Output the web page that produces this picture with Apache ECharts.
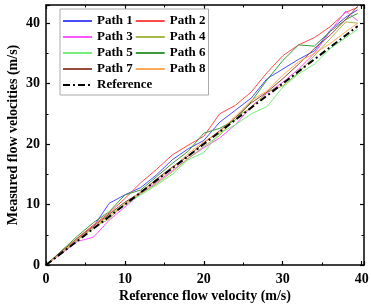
<!DOCTYPE html>
<html>
<head>
<meta charset="utf-8">
<script src="https://cdn.jsdelivr.net/npm/echarts@6/dist/echarts.min.js"></script>
<style>
  html, body { margin: 0; padding: 0; background: #fff; }
  #chart { width: 371px; height: 304px; }
</style>
</head>
<body>
<div id="chart"></div>
<script>
// reference velocities (m/s) where each path was sampled
const refVelocity = [0, 2, 4, 6, 8, 10, 12, 14, 16, 18, 20, 22, 24, 26, 28, 30, 32, 34, 36, 38, 39.5];

// measured velocities per path (m/s)
const path1 = [0, 2.1, 4.2, 6.3, 10.2, 11.6, 12.8, 14.9, 17.4, 19.2, 20.6, 23.6, 25.6, 27.6, 30.8, 32.4, 34.0, 35.4, 38.8, 41.0, 42.2];
const path2 = [0, 2.2, 4.5, 6.6, 8.6, 11.0, 13.6, 15.8, 18.2, 19.8, 21.3, 25.0, 26.4, 28.6, 31.8, 34.6, 36.4, 37.6, 39.4, 41.8, 42.6];
const path3 = [0, 1.9, 3.9, 4.6, 7.4, 9.6, 11.8, 13.6, 15.6, 17.6, 19.4, 21.0, 23.2, 26.2, 28.4, 30.2, 32.4, 35.0, 38.6, 42.0, 40.4];
const path4 = [0, 2.0, 4.1, 6.2, 7.6, 10.2, 11.8, 13.4, 15.4, 17.6, 19.6, 21.4, 24.4, 26.0, 28.6, 29.6, 31.8, 34.6, 37.4, 40.2, 40.0];
const path5 = [0, 2.2, 4.4, 6.0, 8.4, 10.0, 11.6, 13.2, 15.0, 17.4, 18.6, 21.8, 23.2, 25.0, 26.2, 29.4, 31.6, 33.2, 35.8, 37.6, 39.0];
const path6 = [0, 2.4, 4.8, 7.0, 8.8, 11.6, 12.4, 14.6, 16.8, 18.8, 21.8, 22.6, 24.0, 27.0, 30.6, 33.8, 36.4, 36.2, 38.6, 40.6, 41.6];
const path7 = [0, 2.3, 4.4, 6.4, 8.4, 10.4, 12.0, 14.2, 16.2, 18.0, 20.2, 22.2, 24.4, 26.8, 28.6, 30.8, 33.2, 35.8, 38.0, 40.6, 42.8];
const path8 = [0, 2.1, 4.3, 6.2, 8.1, 10.0, 12.2, 13.8, 16.0, 18.4, 20.4, 22.0, 24.6, 27.2, 28.8, 31.4, 33.6, 35.0, 36.6, 38.6, 40.0];
const referenceLine = [0, 2, 4, 6, 8, 10, 12, 14, 16, 18, 20, 22, 24, 26, 28, 30, 32, 34, 36, 38, 39.5];

const pathNames = ["Path 1", "Path 2", "Path 3", "Path 4", "Path 5", "Path 6", "Path 7", "Path 8"];
const pathValues = [path1, path2, path3, path4, path5, path6, path7, path8];
const pathColors = ["#4a4aff", "#ff4a4a", "#ff55ff", "#a8b84a", "#77ee77", "#3a9a3a", "#9a4a3a", "#ffaa5a"];

const FONT = "'Liberation Serif', 'Times New Roman', serif";

const pairs = (ys) => refVelocity.map((x, i) => [x, ys[i]]);

const series = pathNames.map((name, i) => ({
  name,
  type: "line",
  data: pairs(pathValues[i]),
  symbol: "none",
  lineStyle: { width: 1, color: pathColors[i] },
  itemStyle: { color: pathColors[i] },
}));

series.push({
  name: "Reference",
  type: "line",
  data: pairs(referenceLine),
  symbol: "none",
  z: 5,
  lineStyle: { width: 2, color: "#000", type: [7, 3, 2, 3] },
  itemStyle: { color: "#000" },
});

const tenOnly = (v) => (Math.abs(v % 10) < 1e-6 ? String(v) : "");

const axisCommon = {
  type: "value",
  interval: 10,
  axisLine: { show: true, onZero: false, lineStyle: { color: "#000", width: 1.5 } },
  axisTick: { show: true, inside: true, length: 4, lineStyle: { color: "#000", width: 1.2 } },
  minorTick: { show: true, splitNumber: 2, length: 2.5, lineStyle: { color: "#000", width: 1 } },
  splitLine: { show: false },
};

const labelStyle = { fontFamily: FONT, fontWeight: "bold", fontSize: 14, color: "#000" };

const chart = echarts.init(document.getElementById("chart"));
chart.setOption({
  animation: false,
  grid: { left: 46, right: 7, top: 5, bottom: 39, outerBoundsMode: "none", containLabel: false },
  legend: {
    data: [...pathNames, "Reference"],
    orient: "horizontal",
    left: 60,
    top: 9,
    width: 148,
    padding: [5, 3, 3, 2],
    itemGap: 2,
    itemWidth: 29,
    itemHeight: 10,
    borderColor: "#aaa",
    borderWidth: 1,
    backgroundColor: "#fff",
    itemStyle: { color: "transparent", borderWidth: 0 },
    textStyle: { fontFamily: FONT, fontWeight: "bold", fontSize: 13, color: "#000", lineHeight: 14 },
  },
  xAxis: [
    {
      ...axisCommon,
      position: "bottom",
      min: 0,
      max: 40.3,
      name: "Reference flow velocity (m/s)",
      nameLocation: "middle",
      nameGap: 24,
      nameMoveOverlap: false,
      nameTextStyle: labelStyle,
      axisLabel: { ...labelStyle, margin: 7, formatter: tenOnly },
    },
    {
      ...axisCommon,
      position: "top",
      min: 0,
      max: 40.3,
      axisLabel: { show: false },
    },
  ],
  yAxis: [
    {
      ...axisCommon,
      position: "left",
      min: 0,
      max: 43,
      name: "Measured flow velocities (m/s)",
      nameLocation: "middle",
      nameGap: 26,
      nameMoveOverlap: false,
      nameTextStyle: labelStyle,
      axisLabel: { ...labelStyle, margin: 6, formatter: tenOnly },
    },
    {
      ...axisCommon,
      position: "right",
      min: 0,
      max: 43,
      axisLabel: { show: false },
    },
  ],
  series,
});
</script>
</body>
</html>
